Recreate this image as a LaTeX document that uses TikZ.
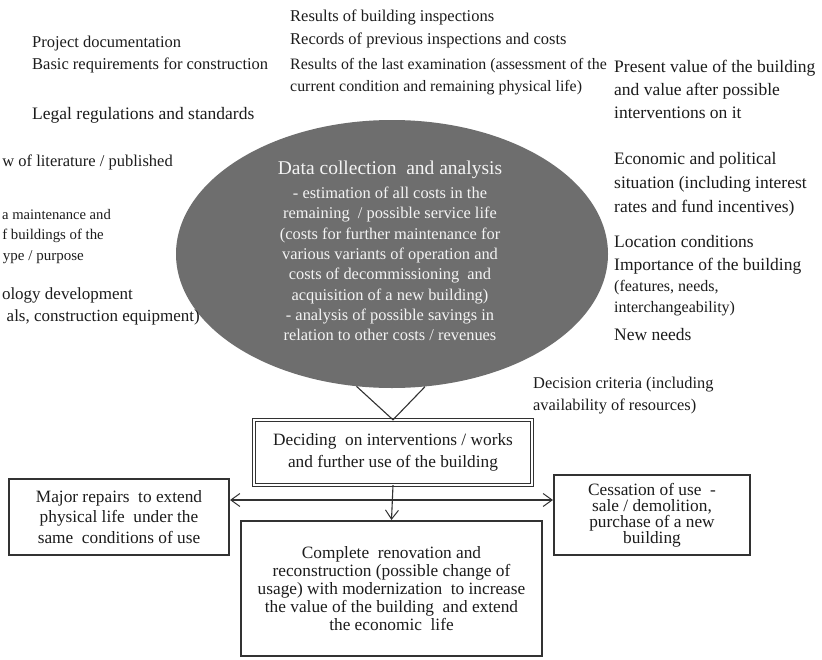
\documentclass[tikz,border=0pt]{standalone}
\usepackage{fontspec}
\setmainfont{Liberation Serif}
\usetikzlibrary{shapes.geometric,arrows.meta}
\definecolor{ellfill}{RGB}{110,110,110}
\definecolor{ink}{RGB}{28,28,28}
\definecolor{boxline}{RGB}{50,50,50}
\definecolor{elltext}{RGB}{244,244,244}
\tikzset{
  lbl/.style={text=ink, inner sep=0pt, align=left, anchor=west, font=\fontsize{16.5}{22.5}\selectfont},
  cut/.style={text=ink, inner sep=0pt, anchor=east, font=\fontsize{16.5}{22.5}\selectfont},
  boxnode/.style={draw=boxline, line width=1.7pt, fill=white, align=center, inner sep=0pt,
    text=ink, font=\fontsize{17.3}{20.5}\selectfont},
  dblbox/.style={draw=boxline, double=white, double distance=2.4pt, line width=0.9pt,
    align=center, inner sep=0pt, text=ink, font=\fontsize{17.3}{22}\selectfont},
  conn/.style={draw=boxline, line width=1.1pt},
  arr/.style={conn, -{Straight Barb[length=9pt,width=13pt,line width=1pt]}},
  elltxt/.style={text=elltext, align=center, inner sep=0pt}
}
\begin{document}
\begin{tikzpicture}[x=1pt,y=-1pt]
\useasboundingbox (0,0) rectangle (822,659);
\fill[white] (0,0) rectangle (822,659);

% central ellipse
\node[ellipse, fill=ellfill, minimum width=432pt, minimum height=268pt, inner sep=0pt] (ell) at (392,254) {};
\node[elltxt, font=\fontsize{19.5}{22}\selectfont] (ellt) at (390,170) {Data collection\ \ and analysis};
\node[elltxt, font=\fontsize{16.4}{20.3}\selectfont] (ellb) at (390,264) {- estimation of all costs in the\\
remaining\ \ / possible service life\\
(costs for further maintenance for\\
various variants of operation and\\
costs of decommissioning\ \ and\\
acquisition of a new building)\\
- analysis of possible savings in\\
relation to other costs / revenues};

% top texts
\node[lbl, font=\fontsize{16.5}{23}\selectfont] (topa) at (290,28.5) {Results of building inspections\\Records of previous inspections and costs};
\node[lbl, font=\fontsize{15.9}{22}\selectfont] (topb) at (290,77) {Results of the last examination (assessment of the\\current condition and remaining physical life)};

% left texts
\node[lbl, font=\fontsize{16.5}{22}\selectfont] (lefta) at (32,55) {Project documentation\\Basic requirements for construction};
\node[lbl, font=\fontsize{17.5}{22}\selectfont] (leftb) at (32,115) {Legal regulations and standards};
\node[cut] (cut1) at (173,162) {w of literature / published};
\node[cut, font=\fontsize{14.6}{20}\selectfont] (cut2) at (111,215) {a maintenance and};
\node[cut, font=\fontsize{14.8}{20}\selectfont] (cut3) at (104,236) {f buildings of the};
\node[cut, font=\fontsize{15}{20}\selectfont] (cut4) at (84,257) {ype / purpose};
\node[cut, font=\fontsize{17}{20}\selectfont] (cut5) at (133,295) {ology development};
\node[cut, font=\fontsize{17}{20}\selectfont] (cut6) at (200,317) {als, construction equipment)};

% right texts
\node[lbl, font=\fontsize{17.5}{23}\selectfont] (righta) at (614,89) {Present value of the building\\and value after possible\\interventions on it};
\node[lbl, font=\fontsize{17.5}{24}\selectfont] (rightb) at (614,184) {Economic and political\\situation (including interest\\rates and fund incentives)};
\node[lbl, font=\fontsize{17.5}{23}\selectfont] (rightc) at (614,254.5) {Location conditions\\Importance of the building};
\node[lbl, font=\fontsize{16}{21}\selectfont] (rightd) at (614,298.5) {(features, needs,\\interchangeability)};
\node[lbl, font=\fontsize{17.5}{22}\selectfont] (righte) at (614,335) {New needs};

\node[lbl, font=\fontsize{16.4}{21.5}\selectfont] (crit) at (533,395.5) {Decision criteria (including\\availability of resources)};

% boxes
\node[dblbox, minimum width=277.5pt, minimum height=64.5pt] (dec) at (393,452.5) {Deciding\ \ on interventions / works\\and further use of the building};
\node[boxnode, minimum width=220.4pt, minimum height=76.4pt] (major) at (119,517) {Major repairs\ \ to extend\\physical life\ \ under the\\same\ \ conditions of use};
\node[boxnode, minimum width=196.4pt, minimum height=79.4pt, font=\fontsize{17.3}{16}\selectfont] (cess) at (652,515) {Cessation of use\ \ -\\sale / demolition,\\purchase of a new\\building};
\node[boxnode, minimum width=301.4pt, minimum height=135.4pt, font=\fontsize{17.3}{18}\selectfont] (renov) at (391.5,588.5) {Complete\ \ renovation and\\reconstruction (possible change of\\usage) with modernization\ \ to increase\\the value of the building\ \ and extend\\the economic\ \ life};

% connectors
\draw[conn] (ell.255) -- (dec.north) -- (ell.284);
\coordinate (hub) at (dec.south |- 0,500);
\draw[arr] (hub) -- (major.east |- hub);
\draw[arr] (hub) -- (cess.west |- hub);
\draw[arr] (dec.south) -- (renov.north);
\end{tikzpicture}
\end{document}
